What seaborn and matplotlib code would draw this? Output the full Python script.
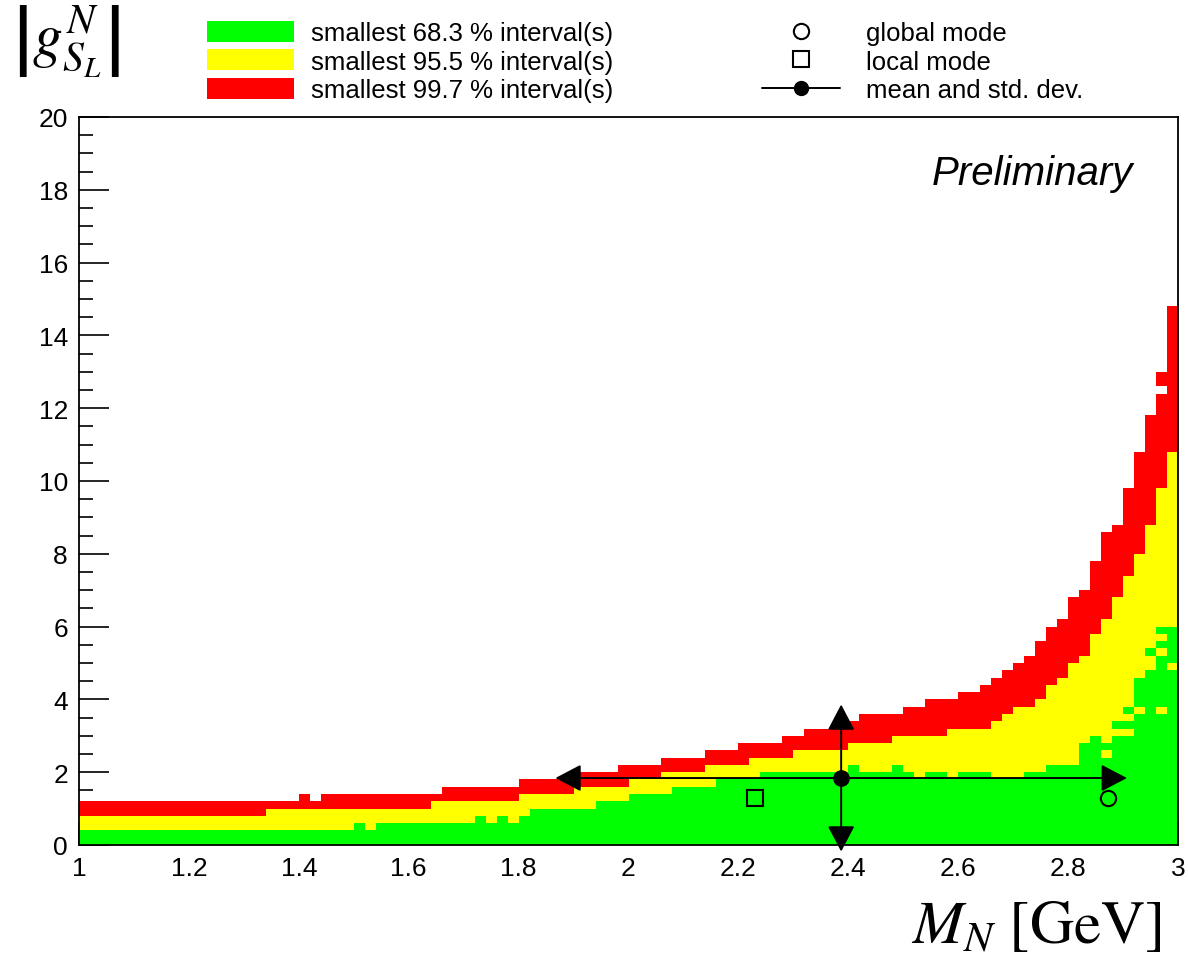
import numpy as np
import pandas as pd
import matplotlib
matplotlib.use("Agg")
import matplotlib.pyplot as plt
from matplotlib.colors import ListedColormap
from matplotlib.lines import Line2D
from matplotlib.patches import Patch
from matplotlib.ticker import MultipleLocator
import seaborn as sns

# binning of the 2D marginal: M_N on x (0.02 GeV bins), |g| on y (0.2 bins)
mass_edges = np.linspace(1.0, 3.0, 101)
coupling_edges = np.linspace(0.0, 20.0, 101)

# upper edge of each band in every M_N bin, counted in |g| bins
green_top = ([2] * 25 + [3, 2] + [3] * 9 + [4, 3, 4, 3, 4] + [5] * 6 + [6] * 3
             + [7] * 4 + [8] * 4 + [9] * 4 + [10] * 8 + [11, 10, 10, 10, 11, 10, 9, 10, 10, 9]
             + [10] * 3 + [9] * 3 + [10, 10, 11, 11, 11, 14, 15, 14, 17, 19, 23, 24, 30, 30])
yellow_top = ([4] * 17 + [5] * 15 + [6] * 8 + [7] * 5 + [8] * 5 + [9] * 3 + [10] * 4
              + [11] * 4 + [12] * 4 + [13] * 5 + [14] * 4 + [15] * 5 + [16] * 4
              + [17, 18, 19, 19, 20, 22, 23, 25, 26, 29, 31, 34, 37, 40, 44, 49, 54])
red_top = ([6] * 20 + [7, 6] + [7] * 11 + [8] * 7 + [9] * 5 + [10] * 4 + [11] * 4
           + [12] * 4 + [13] * 3 + [14] * 4 + [15] * 2 + [16] * 4 + [17] + [18] * 4
           + [19] * 2 + [20] * 3 + [21] * 2
           + [22, 23, 24, 25, 26, 28, 30, 31, 34, 35, 39, 43, 44, 49, 54, 59, 65, 74])

# single cells that break the plain bands: (M_N bin, |g| bin, band)
patchy_cells = [(93, 12, "yellow"), (94, 15, "yellow"), (95, 15, "yellow"),
                (95, 17, "yellow"), (96, 18, "yellow"), (97, 26, "green"),
                (98, 18, "yellow"), (98, 26, "yellow"), (98, 28, "yellow"),
                (99, 24, "yellow"), (98, 62, "none")]

global_mode = (2.873, 1.29)
local_mode = (2.230, 1.29)
mean_point = (2.387, 1.84)
std_dev = (0.52, 2.02)

band_labels = ["smallest 68.3 % interval(s)", "smallest 95.5 % interval(s)",
               "smallest 99.7 % interval(s)"]
marker_labels = ["global mode", "local mode", "mean and std. dev."]

# build the cell table
band_code = {"none": 0, "red": 1, "yellow": 2, "green": 3}
level = np.zeros((100, 100), dtype=int)
for i in range(100):
    level[i, :red_top[i]] = 1
    level[i, :yellow_top[i]] = 2
    level[i, :green_top[i]] = 3
for i, j, band in patchy_cells:
    level[i, j] = band_code[band]

ii, jj = np.nonzero(level)
cells = pd.DataFrame({
    "M_N": (mass_edges[ii] + mass_edges[ii + 1]) / 2,
    "g": (coupling_edges[jj] + coupling_edges[jj + 1]) / 2,
    "band": level[ii, jj],
})

sns.set_style("ticks")
plt.rcParams["font.family"] = ["Liberation Sans", "DejaVu Sans"]
plt.rcParams["mathtext.fontset"] = "stix"
for key in ["text.color", "axes.labelcolor", "xtick.color", "ytick.color", "axes.edgecolor"]:
    plt.rcParams[key] = "black"

fig = plt.figure(figsize=(11.88, 9.62), dpi=100)
ax = fig.add_axes([79 / 1188, 1 - 846 / 962, 1099 / 1188, 728 / 962])

band_cmap = ListedColormap(["#ff0000", "#ffff00", "#00ff00"])
sns.histplot(data=cells, x="M_N", y="g", weights="band",
             bins=[mass_edges, coupling_edges], cmap=band_cmap,
             vmin=0.5, vmax=3.5, ax=ax)

# modes and mean with std. dev. arrows
ax.plot(*global_mode, marker="o", ms=11, mfc="none", mec="black", mew=1.5, ls="none")
ax.plot(*local_mode, marker="s", ms=11, mfc="none", mec="black", mew=1.5, ls="none")
arrow = dict(arrowstyle="-|>,head_length=0.8,head_width=0.42", mutation_scale=20,
             color="black", lw=1.4, shrinkA=0, shrinkB=0)
mx, my = mean_point
sx, sy = std_dev
for end in [(mx - sx, my), (mx + sx, my), (mx, my + sy), (mx, my - sy)]:
    ax.annotate("", xy=end, xytext=mean_point, arrowprops=arrow,
                annotation_clip=False)
ax.plot(mx, my, marker="o", ms=11, color="black", ls="none", clip_on=False, zorder=5)

ax.text(2.918, 18.15, "Preliminary", ha="right", va="baseline",
        fontsize=29, style="italic")

# axes in ROOT style
ax.set_xlim(1, 3)
ax.set_ylim(0, 20)
ax.set(xlabel="", ylabel="")
xt = np.arange(1.0, 3.01, 0.2)
ax.set_xticks(xt, [f"{round(t, 1):g}" for t in xt])
ax.set_yticks(np.arange(0, 21, 2))
ax.xaxis.set_minor_locator(MultipleLocator(0.05))
ax.yaxis.set_minor_locator(MultipleLocator(0.5))
ax.tick_params(axis="both", which="both", direction="in", width=1.2,
               labelsize=19, pad=8, top=False, right=False)
ax.tick_params(axis="x", which="major", length=16.5)
ax.tick_params(axis="x", which="minor", length=8.5)
ax.tick_params(axis="y", which="major", length=21.5)
ax.tick_params(axis="y", which="minor", length=10)
for s in ax.spines.values():
    s.set_linewidth(1.3)

fig.text(1162 / 1188, 1 - 943 / 962, r"$M_{N}\,\,[\mathrm{GeV}]$",
         ha="right", va="baseline", fontsize=44)
fig.text(12 / 1188, 1 - 4 / 962, r"$\left|g^{N}_{S_{L}}\right|$",
         ha="left", va="top", fontsize=43)

# legends: bands on the left, markers on the right
band_handles = [Patch(facecolor=c, edgecolor="none") for c in ["#00ff00", "#ffff00", "#ff0000"]]
marker_handles = [
    Line2D([], [], ls="none", marker="o", ms=11, mfc="none", mec="black", mew=1.5),
    Line2D([], [], ls="none", marker="s", ms=11, mfc="none", mec="black", mew=1.5),
    Line2D([], [], color="black", lw=1.4, marker="o", ms=10),
]
leg_kw = dict(loc="upper left", frameon=False, fontsize=18.5, handleheight=0.88,
              labelspacing=0.16, borderpad=0, borderaxespad=0)
leg1 = fig.legend(band_handles, band_labels, bbox_to_anchor=(207 / 1188, 1 - 22 / 962),
                  handlelength=3.4, handletextpad=0.65, **leg_kw)
fig.legend(marker_handles, marker_labels, bbox_to_anchor=(762 / 1188, 1 - 22 / 962),
           handlelength=3.05, handletextpad=1.0, **leg_kw)

fig.savefig("out.png", dpi=100)
